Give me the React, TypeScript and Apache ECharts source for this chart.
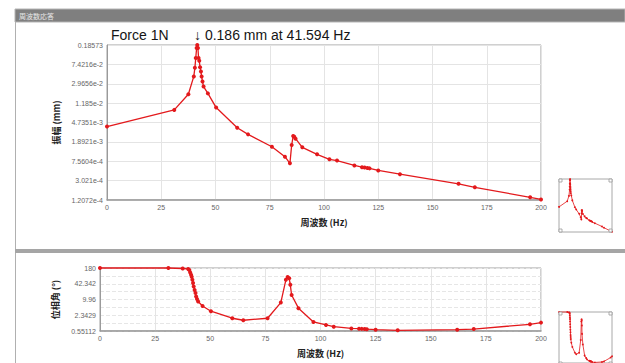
import React, { useEffect, useRef } from "react";
import * as echarts from "echarts";

// Frequency (Hz) of each analysis point
const freqHz = [
  0, 31, 37.5, 40, 40.5, 40.9, 41.3, 41.594, 41.9, 42.2, 42.5, 42.9, 43.3, 43.6, 44.0, 44.5,
  46.5, 50.3, 60, 65, 76, 82, 84.3, 85.1, 85.8, 86.3, 86.9, 90, 96.8, 102.5, 106, 114,
  117.5, 118.7, 120, 121, 125, 135, 162, 169.5, 195, 200,
];

// Amplitude (mm)
const amplitudeMm = [
  3.9e-3, 8.6e-3, 0.018, 0.042, 0.063, 0.1, 0.161, 0.186, 0.161, 0.1, 0.088, 0.065, 0.053, 0.042, 0.033, 0.026,
  0.0188, 0.0096, 0.0037, 0.0027, 0.0015, 9.4e-4, 6.85e-4, 1.63e-3, 2.5e-3, 2.4e-3, 2.2e-3, 1.46e-3, 1.05e-3, 8.3e-4, 7.8e-4, 6.2e-4,
  5.7e-4, 5.6e-4, 5.5e-4, 5.4e-4, 4.9e-4, 4.1e-4, 2.6e-4, 2.2e-4, 1.37e-4, 1.24e-4,
];

// Phase angle (deg)
const phaseDeg = [
  180, 180, 172, 165, 150, 120, 97, 80, 61, 45, 33, 24, 18, 13, 10.5, 8.3,
  5.5, 3.4, 1.78, 1.48, 1.78, 7.5, 61, 78, 70, 39, 15, 4.5, 1.27, 0.96, 0.82, 0.7,
  0.68, 0.67, 0.66, 0.65, 0.62, 0.586, 0.62, 0.66, 1.02, 1.19,
];

const ampTickLabels = [
  "1.2072e-4", "3.021e-4", "7.5604e-4", "1.8921e-3", "4.7351e-3",
  "1.185e-2", "2.9656e-2", "7.4216e-2", "0.18573",
];
const phaseTickLabels = ["0.55112", "2.3429", "9.96", "42.342", "180"];

const AMP_MIN = 1.2072e-4;
const AMP_MAX = 0.18573;
const AMP_STEPS = ampTickLabels.length - 1;
const PH_MIN = 0.55112;
const PH_MAX = 180;
const PH_STEPS = phaseTickLabels.length - 1;

const ampStep = Math.pow(AMP_MAX / AMP_MIN, 1 / AMP_STEPS);
const phStep = Math.pow(PH_MAX / PH_MIN, 1 / PH_STEPS);
const ampLog = (v: number) => Math.log(v / AMP_MIN) / Math.log(ampStep);
const phLog = (v: number) => Math.log(v / PH_MIN) / Math.log(phStep);

const RED = "#e3191c";
const LABEL_FONT = "Liberation Sans, Arial, sans-serif";
const CJK_FONT = "Noto Sans CJK JP, sans-serif";

export default function App() {
  const ref = useRef<HTMLDivElement>(null);

  useEffect(() => {
    document.body.style.margin = "0";
    const chart = echarts.init(ref.current!, null, { renderer: "svg" });

    const ampData = freqHz.map((f, i) => [f, ampLog(amplitudeMm[i])]);
    const phData = freqHz.map((f, i) => [f, phLog(phaseDeg[i])]);

    const mainX = (gridIndex: number) => ({
      type: "value",
      gridIndex,
      min: 0,
      max: 200,
      interval: 25,
      name: "周波数 (Hz)",
      nameLocation: "middle",
      nameGap: 18,
      nameTextStyle: { fontSize: 9, fontWeight: "bold", color: "#222", fontFamily: CJK_FONT },
      axisLine: { show: true, lineStyle: { color: "#9a9a9a", width: 1.5 } },
      axisTick: { show: false },
      axisLabel: { fontSize: 7, color: "#666", margin: 4, fontFamily: LABEL_FONT },
      splitLine: { show: true, lineStyle: { color: "#e4e4e4", width: 1 } },
    });

    const thumbX = (gridIndex: number) => ({
      type: "value", gridIndex, min: 0, max: 200, show: false,
      splitLine: { show: false },
    });

    const corners = (x: number, y: number, w: number, h: number) => {
      const s = 3;
      const pts = [
        [x, y], [x + w - s, y], [x, y + h - s], [x + w - s, y + h - s],
      ];
      return pts.map(([px, py]) => ({
        type: "rect",
        shape: { x: px, y: py, width: s, height: s },
        style: { fill: "#fff", stroke: "#999", lineWidth: 0.8 },
        z: 100,
      }));
    };

    chart.setOption({
      animation: false,
      backgroundColor: "#fff",
      grid: [
        { left: 107, top: 45, width: 434, height: 155, show: true, borderColor: "#a0a0a0", borderWidth: 1, backgroundColor: "transparent" },
        { left: 100, top: 268, width: 441, height: 63, show: true, borderColor: "#a0a0a0", borderWidth: 1, backgroundColor: "transparent" },
        { left: 559, top: 179, width: 53, height: 53, show: true, borderColor: "#a8a8a8", borderWidth: 1, backgroundColor: "transparent" },
        { left: 559, top: 312, width: 53, height: 53, show: true, borderColor: "#a8a8a8", borderWidth: 1, backgroundColor: "transparent" },
      ],
      xAxis: [mainX(0), mainX(1), thumbX(2), thumbX(3)],
      yAxis: [
        {
          type: "value", gridIndex: 0, min: 0, max: AMP_STEPS, interval: 1,
          name: "振幅 (mm)", nameLocation: "middle", nameRotate: 90, nameGap: 35,
          nameTextStyle: { fontSize: 9, fontWeight: "bold", color: "#222", fontFamily: CJK_FONT },
          axisLine: { show: true, lineStyle: { color: "#9a9a9a" } },
          axisTick: { show: false },
          axisLabel: {
            fontSize: 7, color: "#666", margin: 4, fontFamily: LABEL_FONT,
            formatter: (v: number) => ampTickLabels[Math.round(v)] ?? "",
          },
          splitLine: { show: true, lineStyle: { color: "#e4e4e4" } },
        },
        {
          type: "value", gridIndex: 1, min: 0, max: PH_STEPS, interval: 0.5,
          name: "位相角 (°)", nameLocation: "middle", nameRotate: 90, nameGap: 28,
          nameTextStyle: { fontSize: 9, fontWeight: "bold", color: "#222", fontFamily: CJK_FONT },
          axisLine: { show: true, lineStyle: { color: "#9a9a9a" } },
          axisTick: { show: false },
          axisLabel: {
            fontSize: 7, color: "#666", margin: 4, fontFamily: LABEL_FONT,
            formatter: (v: number) => (Number.isInteger(v) ? phaseTickLabels[v] : ""),
          },
          splitLine: { show: true, lineStyle: { color: "#e6e6e6", type: "dashed" } },
        },
        { type: "value", gridIndex: 2, min: 0, max: AMP_STEPS, show: false, splitLine: { show: false } },
        { type: "value", gridIndex: 3, min: 0, max: PH_STEPS, show: false, splitLine: { show: false } },
      ],
      series: [
        {
          type: "line", xAxisIndex: 0, yAxisIndex: 0, data: ampData, clip: false,
          symbol: "circle", symbolSize: 4, showAllSymbol: true,
          lineStyle: { color: RED, width: 1.3 }, itemStyle: { color: RED },
        },
        {
          type: "line", xAxisIndex: 1, yAxisIndex: 1, data: phData, clip: false,
          symbol: "circle", symbolSize: 4, showAllSymbol: true,
          lineStyle: { color: RED, width: 1.3 }, itemStyle: { color: RED },
        },
        {
          type: "line", xAxisIndex: 2, yAxisIndex: 2, data: ampData, clip: false,
          symbol: "circle", symbolSize: 1.8, showAllSymbol: true,
          lineStyle: { color: RED, width: 0.8 }, itemStyle: { color: RED },
        },
        {
          type: "line", xAxisIndex: 3, yAxisIndex: 3, data: phData, clip: false,
          symbol: "circle", symbolSize: 1.8, showAllSymbol: true,
          lineStyle: { color: RED, width: 0.8 }, itemStyle: { color: RED },
        },
      ],
      graphic: [
        { type: "rect", shape: { x: 15, y: 9, width: 610, height: 13 }, style: { fill: "#7f7f7f", stroke: "#b5b5b5", lineWidth: 1 } },
        { type: "text", x: 19, y: 15.5, style: { text: "周波数応答", fontSize: 7, fill: "#e8e8e8", verticalAlign: "middle", fontFamily: CJK_FONT } },
        { type: "rect", shape: { x: 15, y: 22, width: 1, height: 228 }, style: { fill: "#b0b0b0" } },
        { type: "rect", shape: { x: 15, y: 249, width: 610, height: 4 }, style: { fill: "#a5a5a5" } },
        { type: "rect", shape: { x: 15, y: 253, width: 1, height: 110 }, style: { fill: "#b0b0b0" } },
        { type: "text", x: 111, y: 35, style: { text: "Force 1N", fontSize: 14, fill: "#151515", verticalAlign: "middle", fontFamily: LABEL_FONT } },
        { type: "text", x: 194, y: 35, style: { text: "↓ 0.186 mm at 41.594 Hz", fontSize: 14, fill: "#151515", verticalAlign: "middle", fontFamily: LABEL_FONT } },
        ...corners(559, 179, 53, 53),
        ...corners(559, 312, 53, 53),
      ],
    });

    return () => chart.dispose();
  }, []);

  return (
    <div
      ref={ref}
      style={{ position: "fixed", left: 0, top: 0, width: 625, height: 363 }}
    />
  );
}
